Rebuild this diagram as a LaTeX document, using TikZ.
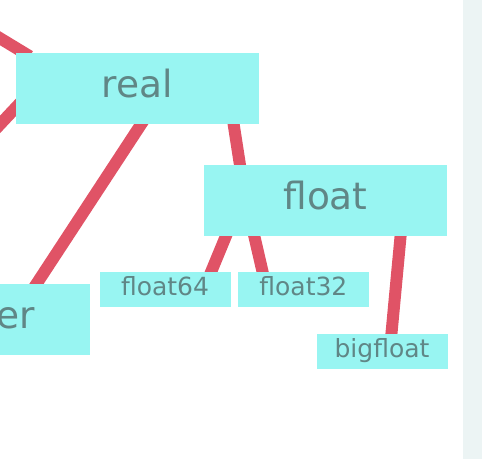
\documentclass[tikz,border=0pt]{standalone}
\usepackage{fontspec}
\setmainfont{DejaVu Sans}
\usetikzlibrary{positioning,calc,backgrounds}
\definecolor{nfill}{RGB}{152,245,242}
\definecolor{ntext}{RGB}{96,134,134}
\definecolor{ered}{RGB}{224,83,102}
\definecolor{sbar}{RGB}{236,244,244}
\tikzset{
  bn/.style={rectangle, minimum width=243pt, minimum height=71pt, inner sep=0pt, fill=nfill, text=ntext, font=\fontsize{37.5}{40}\selectfont, text height=27pt, text depth=9pt},
  sn/.style={rectangle, minimum width=131pt, minimum height=35pt, inner sep=0pt, fill=nfill, text=ntext, font=\fontsize{25}{28}\selectfont, text height=18pt, text depth=7pt},
  ed/.style={draw=ered, line width=12pt},
  node distance=7pt
}
\begin{document}
\begin{tikzpicture}[x=1pt,y=-1pt]
	\useasboundingbox (0,0) rectangle (482,459);
	\fill[sbar] (463,0) rectangle (482,459);
	\node[bn] (real) at (137.5,88) {real};
	\node[bn] (float) at (325.5,200.5) {float};
	\node[bn] (integer) at (-32,319.5) {integer};
	\node[sn] (float64) at (165,289.5) {float64};
	\node[sn, right=of float64] (float32) {float32};
	\node[sn] (bigfloat) at (382,351.5) {bigfloat};
	%
	\coordinate (upleft) at (-40,14);
	\coordinate (downleft) at (-40,167);
	\begin{scope}[on background layer]
	\draw[ed] (upleft) -- ($(real.north west)+(14,4)$);
	\draw[ed] ($(real.west)+(9,10)$) -- (downleft);
	\draw[ed] ($(real.south)+(10.5,-10)$) -- ($(integer.north)+(62,10)$);
	\draw[ed] ($(real.south)+(94.5,-10)$) -- ($(float.north)+(-84,10)$);
	\draw[ed] ($(float.south)+(-95.5,-10)$) -- ($(float64.north)+(42,10)$);
	\draw[ed] ($(float.south)+(-73.5,-10)$) -- ($(float32.north)+(-38.5,10)$);
	\draw[ed] ($(float.south)+(76,-10)$) -- ($(bigfloat.north)+(8.5,10)$);
	\end{scope}
\end{tikzpicture}
\end{document}
